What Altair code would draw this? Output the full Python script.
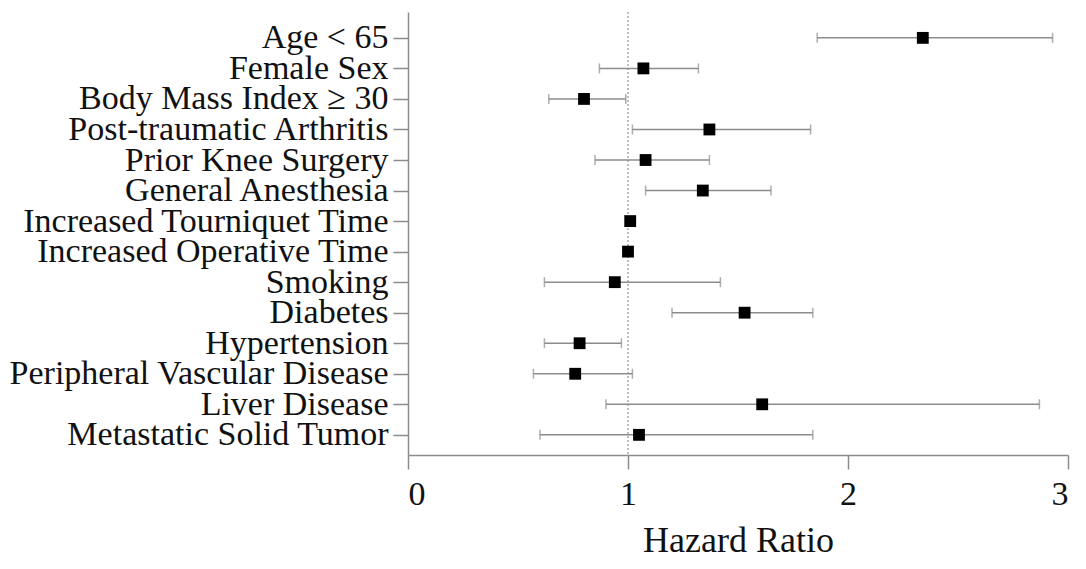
import json
import altair as alt
import pandas as pd

factors = [
    "Age < 65",
    "Female Sex",
    "Body Mass Index \u2265 30",
    "Post-traumatic Arthritis",
    "Prior Knee Surgery",
    "General Anesthesia",
    "Increased Tourniquet Time",
    "Increased Operative Time",
    "Smoking",
    "Diabetes",
    "Hypertension",
    "Peripheral Vascular Disease",
    "Liver Disease",
    "Metastatic Solid Tumor",
]
hazard_ratio = [2.34, 1.07, 0.80, 1.37, 1.08, 1.34, 1.01, 1.00, 0.94, 1.53, 0.78, 0.76, 1.61, 1.05]
ci_low = [1.86, 0.87, 0.64, 1.02, 0.85, 1.08, 1.00, 0.995, 0.62, 1.20, 0.62, 0.57, 0.90, 0.60]
ci_high = [2.93, 1.32, 0.99, 1.83, 1.37, 1.65, 1.02, 1.01, 1.42, 1.84, 0.97, 1.02, 2.87, 1.84]
x_ticks = [0, 1, 2, 3]
reference_value = [1]

df = pd.DataFrame({
    "row": list(range(len(factors))),
    "factor": factors,
    "hr": hazard_ratio,
    "lo": ci_low,
    "hi": ci_high,
})
ref = pd.DataFrame({"x": reference_value})

FONT = "Liberation Serif"
GRAY = "#8c8c8c"

label_expr = json.dumps(factors, ensure_ascii=False) + "[datum.value]"

xscale = alt.Scale(domain=[0, 3], nice=False, zero=False)
yscale = alt.Scale(domain=[-0.847, 13.66], reverse=True, nice=False, zero=False)

xaxis = alt.Axis(
    values=x_ticks, format="d", title="Hazard Ratio", grid=False,
    tickSize=14, tickWidth=1.5, tickColor=GRAY,
    domainColor=GRAY, domainWidth=1.5,
    labelFont=FONT, labelFontSize=34, labelColor="#111", labelPadding=8,
    labelOverlap=False,
    titleFont=FONT, titleFontSize=36, titleFontWeight="normal", titleColor="#111",
    titleBaseline="alphabetic", titleY=96,
)
yaxis = alt.Axis(
    values=list(range(len(factors))), labelExpr=label_expr, title=None, grid=False,
    tickSize=15, tickWidth=1.5, tickColor=GRAY,
    domainColor=GRAY, domainWidth=1.5,
    labelFont=FONT, labelFontSize=34, labelColor="#111", labelPadding=5,
    labelBaseline="middle", labelOverlap=False, labelLimit=0, labelBound=False,
)

base = alt.Chart(df)

refline = alt.Chart(ref).mark_rule(
    color="#a8a8a8", strokeWidth=1.5, strokeDash=[2, 2]
).encode(x=alt.X("x:Q", scale=xscale, axis=xaxis))

bars = base.mark_rule(color=GRAY, strokeWidth=1.5).encode(
    x=alt.X("lo:Q", scale=xscale, axis=xaxis),
    x2="hi:Q",
    y=alt.Y("row:Q", scale=yscale, axis=yaxis),
)
cap_lo = base.mark_tick(orient="vertical", color=GRAY, size=10, thickness=1.5).encode(
    x=alt.X("lo:Q", scale=xscale, axis=xaxis), y=alt.Y("row:Q", scale=yscale, axis=yaxis)
)
cap_hi = base.mark_tick(orient="vertical", color=GRAY, size=10, thickness=1.5).encode(
    x=alt.X("hi:Q", scale=xscale, axis=xaxis), y=alt.Y("row:Q", scale=yscale, axis=yaxis)
)
points = base.mark_point(shape="square", filled=True, size=140, color="black", opacity=1).encode(
    x=alt.X("hr:Q", scale=xscale, axis=xaxis),
    y=alt.Y("row:Q", scale=yscale, axis=yaxis),
)

chart = alt.layer(refline, bars, cap_lo, cap_hi, points).properties(
    width=660, height=443,
    autosize=alt.AutoSizeParams(type="none"),
    padding={"left": 400, "top": 4, "right": 10, "bottom": 105},
    background="white",
).configure_view(stroke=None).configure_axisY(labelOverlap=False).configure_axis(labelOverlap=False)

chart.save("out.html", embed_options={"renderer": "svg", "actions": False})
